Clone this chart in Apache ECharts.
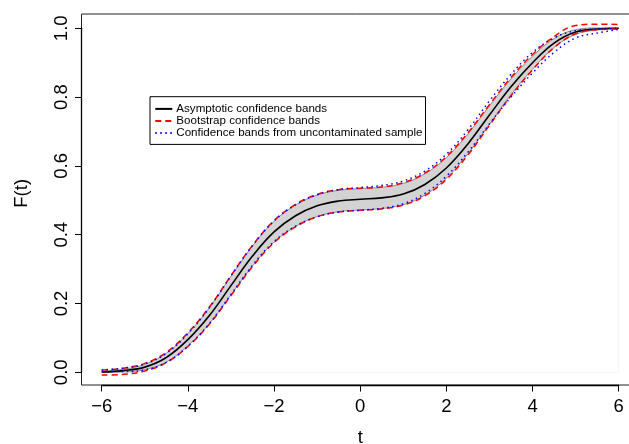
<!DOCTYPE html>
<html>
<head>
<meta charset="utf-8">
<script src="https://cdn.jsdelivr.net/npm/echarts@6/dist/echarts.min.js"></script>
<style>
html, body { margin: 0; padding: 0; background: #fff; }
#chart { width: 629px; height: 444px; }
</style>
</head>
<body>
<div id="chart"></div>
<script>
// grid of t values
const tVals = [-6, -5.5, -5, -4.5, -4, -3.5, -3, -2.5, -2, -1.5, -1, -0.5, 0, 0.5, 1, 1.5, 2, 2.5, 3, 3.5, 4, 4.5, 5, 5.5, 6];

// estimated F(t)
const fitF = [0.001, 0.005, 0.015, 0.043, 0.095, 0.165, 0.252, 0.338, 0.408, 0.455, 0.484, 0.498, 0.503, 0.507, 0.518, 0.546, 0.594, 0.664, 0.748, 0.830, 0.900, 0.957, 0.989, 0.998, 1.000];

// asymptotic band (grey)
const asymLow = [0.000, 0.001, 0.008, 0.030, 0.077, 0.142, 0.225, 0.309, 0.378, 0.424, 0.453, 0.467, 0.472, 0.476, 0.487, 0.515, 0.564, 0.635, 0.721, 0.807, 0.881, 0.944, 0.982, 0.995, 0.999];
const asymHigh = [0.003, 0.009, 0.023, 0.056, 0.113, 0.188, 0.279, 0.367, 0.439, 0.486, 0.515, 0.529, 0.534, 0.538, 0.549, 0.577, 0.624, 0.693, 0.775, 0.853, 0.919, 0.970, 0.996, 1.001, 1.001];

// bootstrap band (red dashed)
const bootLow = [-0.008, -0.006, 0.004, 0.028, 0.075, 0.140, 0.223, 0.307, 0.377, 0.423, 0.452, 0.466, 0.471, 0.475, 0.486, 0.513, 0.561, 0.632, 0.718, 0.804, 0.879, 0.944, 0.984, 0.996, 0.998];
const bootHigh = [0.006, 0.012, 0.026, 0.058, 0.115, 0.190, 0.281, 0.369, 0.441, 0.488, 0.517, 0.531, 0.535, 0.539, 0.551, 0.579, 0.627, 0.696, 0.778, 0.857, 0.924, 0.976, 1.008, 1.012, 1.011];

// band from uncontaminated sample (blue dotted)
const cleanLow = [0.002, 0.002, 0.007, 0.029, 0.076, 0.142, 0.226, 0.311, 0.380, 0.425, 0.452, 0.466, 0.471, 0.477, 0.490, 0.520, 0.570, 0.640, 0.722, 0.800, 0.870, 0.930, 0.972, 0.986, 0.997];
const cleanHigh = [0.007, 0.012, 0.024, 0.055, 0.112, 0.188, 0.280, 0.368, 0.440, 0.487, 0.516, 0.531, 0.537, 0.543, 0.556, 0.585, 0.634, 0.705, 0.789, 0.866, 0.930, 0.972, 0.993, 0.998, 1.000];

const xTicks = [-6, -4, -2, 0, 2, 4, 6];
const yTicks = [0, 0.2, 0.4, 0.6, 0.8, 1.0];

const NAME_ASYM = 'Asymptotic confidence bands';
const NAME_BOOT = 'Bootstrap confidence bands';
const NAME_CLEAN = 'Confidence bands from uncontaminated sample';

const FONT = 'Liberation Sans, Arial, Helvetica, sans-serif';

const pts = arr => tVals.map((t, i) => [t, arr[i]]);

const chart = echarts.init(document.getElementById('chart'), null, { renderer: 'canvas' });

const lineBase = { type: 'line', symbol: 'none', smooth: 0.4, clip: false, silent: true };

chart.setOption({
  animation: false,
  backgroundColor: '#fff',
  textStyle: { fontFamily: FONT },
  grid: [
    // data area, matched to the tick range
    { left: 101.7, right: 10.3, top: 28.3, bottom: 71.7, outerBoundsMode: 'none', containLabel: false },
    // R style box around the plot region
    { left: 81.5, right: -10, top: 14, bottom: 59, outerBoundsMode: 'none', containLabel: false,
      show: true, borderColor: '#222', borderWidth: 1, backgroundColor: 'transparent' }
  ],
  legend: {
    data: [NAME_ASYM, NAME_BOOT, NAME_CLEAN],
    orient: 'vertical',
    left: 150,
    top: 96.7,
    padding: [6.2, 3, 5.5, 4.3],
    itemGap: 0,
    itemWidth: 17,
    itemHeight: 12.2,
    borderColor: '#000',
    borderWidth: 1,
    selectedMode: false,
    itemStyle: { opacity: 0 },
    textStyle: { fontSize: 11.6, color: '#000', fontFamily: FONT, padding: [0, 0, 0, -1] }
  },
  xAxis: [
    {
      type: 'value', gridIndex: 0, min: -6, max: 6, interval: 2, offset: 12.7,
      axisLine: { show: true, onZero: false, lineStyle: { color: '#000', width: 1.3 } },
      axisTick: { show: true, length: 6.5, lineStyle: { color: '#000', width: 1 } },
      axisLabel: {
        fontSize: 18.5, color: '#000', margin: 12, fontFamily: FONT,
        formatter: v => xTicks.includes(v) ? String(v).replace('-', '\u2212') : ''
      },
      splitLine: { show: false },
      name: 't', nameLocation: 'middle', nameGap: 43,
      nameTextStyle: { fontSize: 18.5, color: '#000', fontFamily: FONT }
    },
    { type: 'value', gridIndex: 1, min: 0, max: 1, show: false }
  ],
  yAxis: [
    {
      type: 'value', gridIndex: 0, min: 0, max: 1, interval: 0.2, offset: 20.2,
      axisLine: { show: true, onZero: false, lineStyle: { color: '#000', width: 1.3 } },
      axisTick: { show: true, length: 6.5, lineStyle: { color: '#000', width: 1 } },
      axisLabel: {
        fontSize: 18.5, color: '#000', margin: 10, rotate: 90, fontFamily: FONT,
        formatter: v => yTicks.some(y => Math.abs(y - v) < 1e-9) ? v.toFixed(1) : ''
      },
      splitLine: { show: false },
      name: 'F(t)', nameLocation: 'middle', nameGap: 50,
      nameTextStyle: { fontSize: 18.5, color: '#000', fontFamily: FONT, padding: [0, 0, 0, 14] }
    },
    { type: 'value', gridIndex: 1, min: 0, max: 1, show: false }
  ],
  series: [
    // grey asymptotic band: grey fill under the upper edge, then white under the lower edge
    Object.assign({}, lineBase, {
      name: 'bandHigh', data: pts(asymHigh),
      lineStyle: { color: '#777', width: 0.8 },
      areaStyle: { color: '#d3d3d3', opacity: 1, origin: 'start' }
    }),
    Object.assign({}, lineBase, {
      name: 'bandLow', data: pts(asymLow),
      lineStyle: { color: '#777', width: 0.8 },
      areaStyle: { color: '#ffffff', opacity: 1, origin: 'start' }
    }),
    Object.assign({}, lineBase, {
      name: NAME_ASYM, data: pts(fitF),
      lineStyle: { color: '#000', width: 1.6 }, itemStyle: { color: '#000' }
    }),
    Object.assign({}, lineBase, {
      name: NAME_BOOT, data: pts(bootLow),
      lineStyle: { color: '#ff0000', width: 1.5, type: [6, 4] }, itemStyle: { color: '#ff0000' }
    }),
    Object.assign({}, lineBase, {
      name: NAME_BOOT, data: pts(bootHigh),
      lineStyle: { color: '#ff0000', width: 1.5, type: [6, 4] }, itemStyle: { color: '#ff0000' }
    }),
    Object.assign({}, lineBase, {
      name: NAME_CLEAN, data: pts(cleanLow),
      lineStyle: { color: '#0000ff', width: 1.5, type: [1.5, 3.5] }, itemStyle: { color: '#0000ff' }
    }),
    Object.assign({}, lineBase, {
      name: NAME_CLEAN, data: pts(cleanHigh),
      lineStyle: { color: '#0000ff', width: 1.5, type: [1.5, 3.5] }, itemStyle: { color: '#0000ff' }
    })
  ]
});
</script>
</body>
</html>
